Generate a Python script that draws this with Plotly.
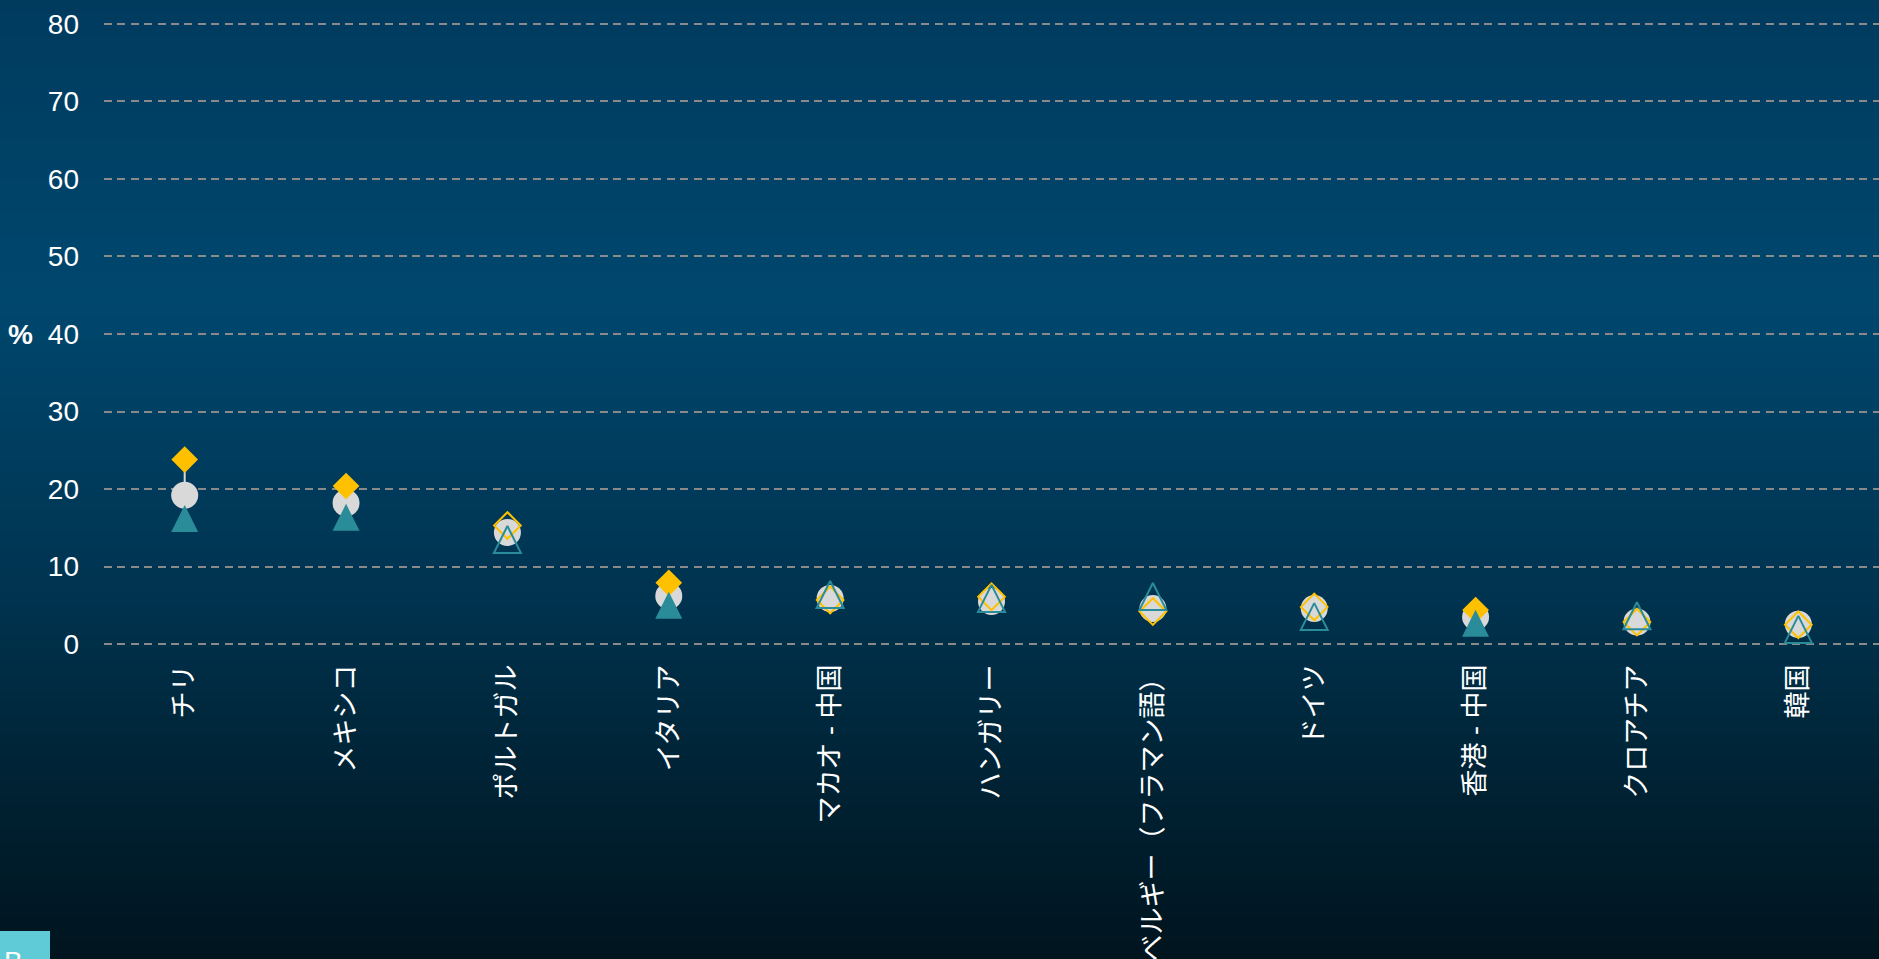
import base64
import struct
import zlib

import plotly.graph_objects as go

# ---------------- data ----------------
categories = [
    "チリ", "メキシコ", "ポルトガル", "イタリア", "マカオ - 中国", "ハンガリー",
    "ベルギー（フラマン語）", "ドイツ", "香港 - 中国", "クロアチア", "韓国",
]
circle_values = [19.2, 18.2, 14.4, 6.2, 5.9, 5.5, 4.6, 4.6, 3.5, 2.85, 2.55]
diamond_values = [23.8, 20.4, 15.3, 7.9, 5.7, 6.1, 4.2, 4.8, 4.4, 2.85, 2.5]
triangle_values = [16.2, 16.35, 13.5, 5.0, 6.4, 5.9, 6.15, 3.55, 2.7, 3.65, 1.9]
diamond_significant = [True, True, False, True, False, False, False, False, True, False, False]
triangle_significant = [True, True, False, True, False, False, False, False, True, False, False]
y_tick_values = [0, 10, 20, 30, 40, 50, 60, 70, 80]

# ---------------- layout geometry ----------------
W, H = 1879, 959
ML, MR, MT, MB = 104, 0, 20, 311
PW, PH = W - ML - MR, H - MT - MB

FONT = "Liberation Sans, Arial, Noto Sans CJK JP, sans-serif"
GREY = "#d9d9d9"
YELLOW = "#ffc000"
TEAL = "#2a8c99"


def px_x(p):
    return (p - ML) / PW


def px_y(p):
    return (H - MB - p) / PH


# vertical gradient background as PNG
stops = [(0, (0, 59, 94)), (300, (0, 71, 110)), (600, (0, 51, 79)),
         (750, (0, 37, 56)), (959, (0, 20, 30))]


def grad_color(y):
    for (y0, c0), (y1, c1) in zip(stops[:-1], stops[1:]):
        if y0 <= y <= y1:
            t = (y - y0) / (y1 - y0)
            return tuple(int(round(a + (b - a) * t)) for a, b in zip(c0, c1))
    return stops[-1][1]


raw = b"".join(b"\x00" + bytes(grad_color(y)) for y in range(H))


def chunk(tag, data):
    c = struct.pack(">I", len(data)) + tag + data
    return c + struct.pack(">I", zlib.crc32(tag + data) & 0xFFFFFFFF)


png = (b"\x89PNG\r\n\x1a\n"
       + chunk(b"IHDR", struct.pack(">IIBBBBB", 1, H, 8, 2, 0, 0, 0))
       + chunk(b"IDAT", zlib.compress(raw, 9))
       + chunk(b"IEND", b""))
bg_uri = "data:image/png;base64," + base64.b64encode(png).decode()

# ---------------- traces ----------------
fig = go.Figure()

# connecting range lines (min to max per category)
line_x, line_y = [], []
for c, a, b, d in zip(categories, circle_values, diamond_values, triangle_values):
    line_x += [c, c, None]
    line_y += [min(a, b, d), max(a, b, d), None]
fig.add_trace(go.Scatter(
    x=line_x, y=line_y, mode="lines",
    line=dict(color=GREY, width=2), hoverinfo="skip", showlegend=False,
))

fig.add_trace(go.Scatter(
    x=categories, y=circle_values, mode="markers", name="circle",
    marker=dict(symbol="circle", size=27, color=GREY, line=dict(width=0)),
    showlegend=False,
))

fig.add_trace(go.Scatter(
    x=categories, y=diamond_values, mode="markers", name="diamond",
    marker=dict(
        symbol=["diamond" if s else "diamond-open" for s in diamond_significant],
        size=20.5, color=YELLOW,
        line=dict(color=YELLOW, width=[0 if s else 2 for s in diamond_significant]),
    ),
    showlegend=False,
))

fig.add_trace(go.Scatter(
    x=categories, y=triangle_values, mode="markers", name="triangle",
    marker=dict(
        symbol=["arrow-down" if s else "arrow-down-open" for s in triangle_significant],
        size=27, angle=180, standoff=13.5, color=TEAL,
        line=dict(color=TEAL, width=[0 if s else 2 for s in triangle_significant]),
    ),
    showlegend=False,
))

# ---------------- layout ----------------
fig.update_layout(
    width=W, height=H,
    margin=dict(l=ML, r=MR, t=MT, b=MB, autoexpand=False),
    paper_bgcolor="#002d48",
    plot_bgcolor="rgba(0,0,0,0)",
    font=dict(family=FONT, color="white", size=28),
    showlegend=False,
    images=[dict(
        source=bg_uri, xref="paper", yref="paper",
        x=px_x(0), y=px_y(0), sizex=W / PW, sizey=H / PH,
        xanchor="left", yanchor="top", sizing="stretch", layer="below",
    )],
    xaxis=dict(
        type="category", categoryorder="array", categoryarray=categories,
        range=[-0.5, len(categories) - 0.5],
        showgrid=False, zeroline=False, showline=False, ticks="",
        tickangle=-90, ticklabelstandoff=10,
        tickfont=dict(family=FONT, size=27, color="white"),
        automargin=False,
    ),
    yaxis=dict(
        range=[-0.5, 80.5], tickvals=y_tick_values,
        showgrid=True, gridcolor="#8a8a8a", gridwidth=2, griddash="8px,5.4px",
        zeroline=False, showline=False, ticks="",
        ticklabelstandoff=24,
        tickfont=dict(family=FONT, size=28, color="white"),
        automargin=False,
    ),
    shapes=[dict(
        type="rect", xref="paper", yref="paper",
        x0=px_x(0), x1=px_x(50), y0=px_y(959), y1=px_y(931),
        fillcolor="#5ecbd6", line=dict(width=0), layer="above",
    )],
    annotations=[
        dict(text="<b>%</b>", xref="paper", yref="y", x=px_x(20), y=40,
             xanchor="center", yanchor="middle", showarrow=False,
             font=dict(family=FONT, size=28, color="white")),
        dict(text="B", xref="paper", yref="paper", x=px_x(2), y=px_y(944),
             xanchor="left", yanchor="top", showarrow=False,
             font=dict(family=FONT, size=28, color="white")),
    ],
)

fig.write_html("out.html")
